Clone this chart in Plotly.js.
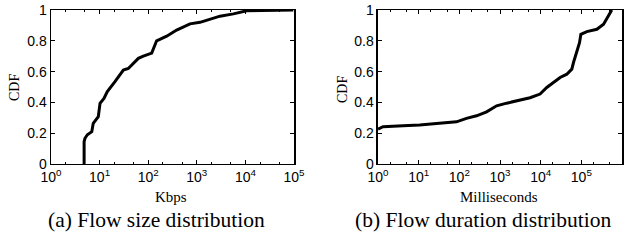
<!DOCTYPE html>
<html><head><meta charset="utf-8">
<script src="https://cdn.plot.ly/plotly-3.0.1.min.js"></script>
<style>html,body{margin:0;padding:0;background:#fff}#chart{width:632px;height:249px}</style>
</head><body><div id="chart"></div>
<script>
// Flow size (Kbps) CDF
const sizeKbps = [4.8, 4.8, 5.0, 5.6, 6.9, 7.4, 9.4, 10.2, 12.3, 14.4, 20.7, 30.8, 39, 62.7, 79.4, 118, 149, 240, 385, 724, 1164, 1870, 3000, 5650, 10600, 96800];
const sizeCdf  = [0, 0.145, 0.167, 0.19, 0.21, 0.264, 0.307, 0.394, 0.426, 0.47, 0.535, 0.61, 0.62, 0.686, 0.70, 0.72, 0.80, 0.83, 0.87, 0.91, 0.92, 0.94, 0.96, 0.975, 0.995, 1.0];
// Flow duration (ms) CDF
const durMs  = [1, 1.33, 4.13, 10.6, 27.4, 85.3, 150, 265, 468, 826, 1459, 3105, 5480, 9660, 14130, 20600, 30060, 43950, 58300, 64100, 77400, 90200, 97300, 136500, 241000, 351600, 560000];
const durCdf = [0.227, 0.242, 0.248, 0.253, 0.263, 0.274, 0.296, 0.313, 0.339, 0.378, 0.395, 0.417, 0.430, 0.454, 0.497, 0.529, 0.562, 0.583, 0.616, 0.659, 0.734, 0.788, 0.842, 0.860, 0.875, 0.907, 1.0];

const yTicks = [0, 0.2, 0.4, 0.6, 0.8, 1];
const yTickText = ['0', '0.2', '0.4', '0.6', '0.8', '1'];
const xTicksA = [1, 10, 100, 1000, 10000, 100000];
const xTicksB = [1, 10, 100, 1000, 10000, 100000, 1000000];
const powText = v => '10<sup>' + Math.round(Math.log10(v)) + '</sup>';

const tickFont = {family: 'Liberation Sans, Arial, sans-serif', size: 14, color: '#000'};
const serif = 'Liberation Serif, Times New Roman, serif';

function xaxis(domain, range, vals) {
  return {
    type: 'log', domain: domain, range: range,
    tickvals: vals, ticktext: vals.map(powText), tickfont: tickFont,
    ticks: 'inside', ticklen: 4, tickcolor: '#000', tickwidth: 1,
    minor: {ticks: 'inside', ticklen: 2, tickcolor: '#000', tickwidth: 1, showgrid: false},
    showline: true, linecolor: '#000', linewidth: 1.5, mirror: 'ticks',
    showgrid: false, zeroline: false, fixedrange: true
  };
}
function yaxis(domain) {
  return {
    domain: domain, range: [0, 1], tickvals: yTicks, ticktext: yTickText, tickfont: tickFont,
    ticks: 'inside', ticklen: 4, tickcolor: '#000', tickwidth: 1,
    showline: true, linecolor: '#000', linewidth: 1.5, mirror: 'ticks',
    showgrid: false, zeroline: false, fixedrange: true
  };
}

const ydom = [0.3414, 0.9598];
const xa = xaxis([0.0807, 0.4652], [0, 5], xTicksA); xa.anchor = 'y';
const xb = xaxis([0.5981, 0.9842], [0, 6], xTicksB); xb.anchor = 'y2';
const ya = yaxis(ydom); ya.anchor = 'x';
const yb = yaxis(ydom); yb.anchor = 'x2';

const traces = [
  {x: sizeKbps, y: sizeCdf, xaxis: 'x', yaxis: 'y', mode: 'lines', line: {color: '#000', width: 3}},
  {x: durMs, y: durCdf, xaxis: 'x2', yaxis: 'y2', mode: 'lines', line: {color: '#000', width: 3}}
];

const ann = (text, x, y, size, angle) => ({text, x, y, xref: 'paper', yref: 'paper', showarrow: false,
  xanchor: 'center', yanchor: 'middle', textangle: angle || 0, font: {family: serif, size, color: '#000'}});

const layout = {
  width: 632, height: 249, margin: {l: 0, r: 0, t: 0, b: 0},
  paper_bgcolor: '#fff', plot_bgcolor: '#fff', showlegend: false,
  xaxis: xa, yaxis: ya, xaxis2: xb, yaxis2: yb,
  annotations: [
    ann('CDF', 15 / 632, 1 - 88 / 249, 14, -90),
    ann('CDF', 342 / 632, 1 - 90 / 249, 14, -90),
    ann('Kbps', 171 / 632, 1 - 197 / 249, 15),
    ann('Milliseconds', 499 / 632, 1 - 197 / 249, 15),
    ann('(a) Flow size distribution', 156 / 632, 1 - 220 / 249, 21.5),
    ann('(b) Flow duration distribution', 483 / 632, 1 - 220 / 249, 21.5)
  ]
};
Plotly.newPlot('chart', traces, layout, {staticPlot: true, displayModeBar: false});
</script></body></html>
